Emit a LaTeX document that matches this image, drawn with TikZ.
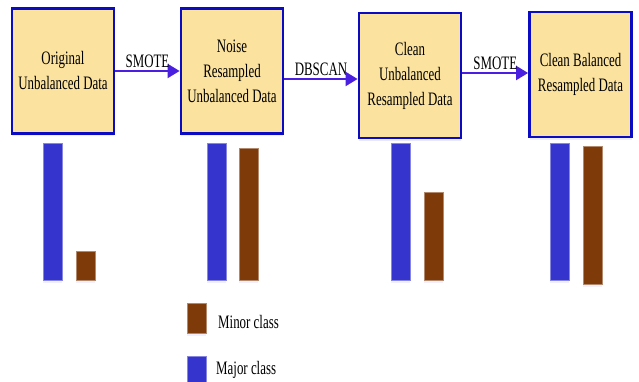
\documentclass[tikz,border=0pt]{standalone}
\usepackage{fontspec}
\setmainfont{Liberation Serif}[FakeStretch=0.68]
\usetikzlibrary{arrows.meta,shadows}

\definecolor{boxfill}{HTML}{FBE29E}
\definecolor{boxline}{HTML}{0B0BC4}
\definecolor{flowline}{HTML}{4A1FE0}
\definecolor{majorcol}{HTML}{3535CD}
\definecolor{minorcol}{HTML}{7F3A0A}

\tikzset{
  stage/.style={draw=boxline, line width=2.8pt, fill=boxfill, align=center,
    minimum width=102pt, minimum height=125pt, inner sep=0pt,
    font=\fontsize{19}{25}\selectfont,
    drop shadow={opacity=0.12, fill=blue!60, shadow xshift=0pt, shadow yshift=-3pt}},
  flow/.style={flowline, line width=2pt, -{Triangle[length=12pt,width=14pt]}},
  steplabel/.style={text=black, font=\fontsize{19}{22}\selectfont, anchor=south, inner sep=1pt},
  majorbar/.style={fill=majorcol, draw=majorcol!60!white, line width=0.5pt,
    drop shadow={opacity=0.1, fill=blue!60, shadow xshift=0pt, shadow yshift=-3pt}},
  minorbar/.style={fill=minorcol, draw=minorcol!60!white, line width=0.5pt,
    drop shadow={opacity=0.1, fill=blue!60, shadow xshift=0pt, shadow yshift=-3pt}},
  keytext/.style={font=\fontsize{19}{22}\selectfont, anchor=west, inner sep=0pt}
}

\begin{document}
\begin{tikzpicture}[x=1pt,y=1pt]
  \useasboundingbox (0,0) rectangle (639,-382);

  % stages
  \node[stage] (orig)  at (63,-71)    {Original\\Unbalanced Data};
  \node[stage] (noise) at (232,-71)   {Noise\\Resampled\\Unbalanced Data};
  \node[stage] (clean) at (410,-75.5) {Clean\\Unbalanced\\Resampled Data};
  \node[stage] (bal)   at (580.5,-74.5) {Clean Balanced\\Resampled Data};

  % steps between stages
  \draw[flow] (orig.east) -- (noise.west)
    node[steplabel, midway, above=1pt] {SMOTE};
  \draw[flow] ([yshift=-8pt]noise.east) -- ([yshift=-8pt]noise.east -| clean.west)
    node[steplabel, midway, above=1pt] {DBSCAN};
  \draw[flow] ([yshift=2.5pt]clean.east) -- ([yshift=2.5pt]clean.east -| bal.west)
    node[steplabel, midway, above=1pt] {SMOTE};

  % class sizes under each stage
  \foreach \bx/\mx/\mtop/\mbot in {43/76/251/280, 207/239/148/280, 391/424/192/280, 550/583/146/284} {
    \draw[majorbar] (\bx,-143) rectangle ++(19,-137);
    \draw[minorbar] (\mx,-\mtop) rectangle (\mx+19,-\mbot);
  }

  % key
  \draw[minorbar] (187,-303) rectangle (206,-333);
  \node[keytext] (minor) at (218,-322) {Minor class};
  \draw[majorbar] (187,-356) rectangle (206,-390);
  \node[keytext] (major) at (216,-370) {Major class};
\end{tikzpicture}
\end{document}
